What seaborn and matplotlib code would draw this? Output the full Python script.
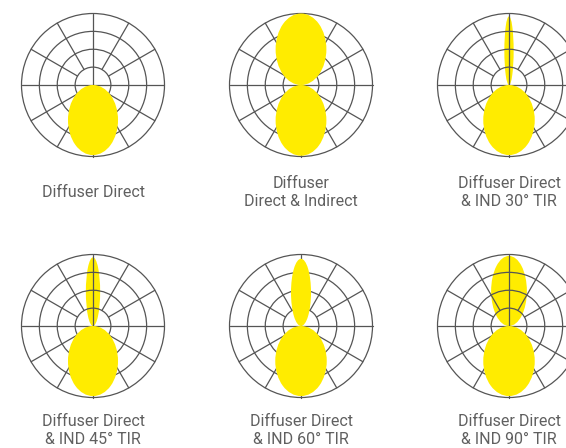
import matplotlib
matplotlib.use("Agg")
import matplotlib.pyplot as plt
from matplotlib.patches import Circle, Ellipse
import numpy as np
import seaborn as sns

sns.set_style("white")
plt.rcParams["font.family"] = ["Roboto", "DejaVu Sans"]

# Panel captions
labels = [
    "Diffuser Direct",
    "Diffuser\nDirect & Indirect",
    "Diffuser Direct\n& IND 30° TIR",
    "Diffuser Direct\n& IND 45° TIR",
    "Diffuser Direct\n& IND 60° TIR",
    "Diffuser Direct\n& IND 90° TIR",
]
# Downward lobe: reach (fraction of max intensity) and half-width
down_reach = [0.98, 0.99, 0.98, 0.98, 0.98, 0.98]
down_halfwidth = [0.35, 0.355, 0.36, 0.35, 0.36, 0.36]
# Upward lobe: reach and half-width (0 = no indirect light)
up_reach = [0.0, 1.0, 0.96, 0.96, 0.94, 0.98]
up_halfwidth = [0.0, 0.355, 0.065, 0.10, 0.14, 0.25]
# Whether the upward lobe is painted over the grid
up_on_top = [False, True, False, False, True, False]

ring_levels = [0.25, 0.5, 0.75, 1.0]
spoke_angles = [30, 60, 120, 150, 210, 240, 300, 330]

YELLOW = "#FFEC00"
GRID = "#555555"
TEXT = "#606060"

W, H = 566, 448
fig = plt.figure(figsize=(W / 100, H / 100), dpi=100)

centers = [(93, 85), (301, 85), (509, 85), (93, 326), (301, 326), (509, 326)]
label_y = [192, 192, 192, 430, 430, 430]
R = 71.5     # pixels per unit radius
LIM = 1.04

for i, (cx, cy) in enumerate(centers):
    size = 2 * LIM * R
    ax = fig.add_axes([(cx - size / 2) / W, 1 - (cy + size / 2) / H, size / W, size / H])
    ax.set_xlim(-LIM, LIM)
    ax.set_ylim(-LIM, LIM)
    ax.set_aspect("equal")
    ax.axis("off")

    # polar grid
    for r in ring_levels:
        ax.add_patch(Circle((0, 0), r, fill=False, ec=GRID, lw=0.9, zorder=2))
    ax.plot([-1, 1], [0, 0], color=GRID, lw=0.9, zorder=2)
    ax.plot([0, 0], [-1, 1], color=GRID, lw=0.9, zorder=2)
    for a in spoke_angles:
        t = np.deg2rad(a)
        ax.plot([0.25 * np.cos(t), np.cos(t)], [0.25 * np.sin(t), np.sin(t)],
                color=GRID, lw=0.9, zorder=2)

    # direct (downward) distribution
    ax.add_patch(Ellipse((0, -down_reach[i] / 2), 2 * down_halfwidth[i], down_reach[i],
                         fc=YELLOW, ec="none", zorder=3))
    # indirect (upward) distribution
    if up_reach[i] > 0:
        ax.add_patch(Ellipse((0, up_reach[i] / 2), 2 * up_halfwidth[i], up_reach[i],
                             fc=YELLOW, ec="none", zorder=3 if up_on_top[i] else 1))

    fig.text(cx / W, 1 - label_y[i] / H, labels[i], ha="center", va="center",
             fontsize=11.5, color=TEXT, linespacing=1.25)

fig.savefig("out.png", dpi=100, facecolor="white")
